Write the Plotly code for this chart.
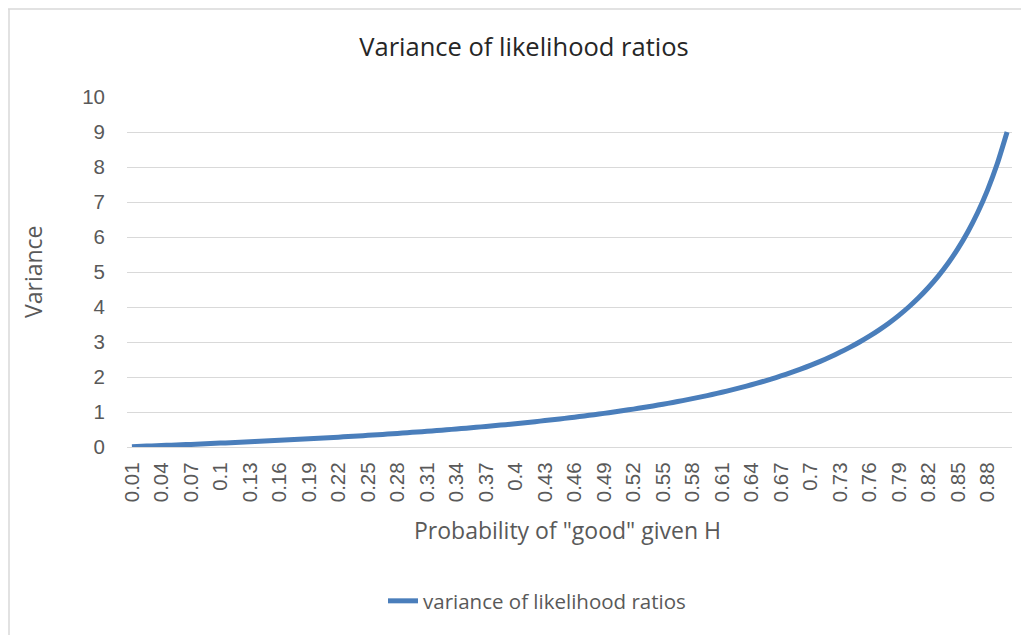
import plotly.graph_objects as go

categories = ["0.01", "0.02", "0.03", "0.04", "0.05", "0.06", "0.07", "0.08", "0.09", "0.1",
              "0.11", "0.12", "0.13", "0.14", "0.15", "0.16", "0.17", "0.18", "0.19", "0.2",
              "0.21", "0.22", "0.23", "0.24", "0.25", "0.26", "0.27", "0.28", "0.29", "0.3",
              "0.31", "0.32", "0.33", "0.34", "0.35", "0.36", "0.37", "0.38", "0.39", "0.4",
              "0.41", "0.42", "0.43", "0.44", "0.45", "0.46", "0.47", "0.48", "0.49", "0.5",
              "0.51", "0.52", "0.53", "0.54", "0.55", "0.56", "0.57", "0.58", "0.59", "0.6",
              "0.61", "0.62", "0.63", "0.64", "0.65", "0.66", "0.67", "0.68", "0.69", "0.7",
              "0.71", "0.72", "0.73", "0.74", "0.75", "0.76", "0.77", "0.78", "0.79", "0.8",
              "0.81", "0.82", "0.83", "0.84", "0.85", "0.86", "0.87", "0.88", "0.89", "0.9"]

variance = [0.010, 0.020, 0.031, 0.042, 0.053, 0.064, 0.075, 0.087, 0.099, 0.111,
            0.124, 0.136, 0.149, 0.163, 0.176, 0.190, 0.205, 0.220, 0.235, 0.250,
            0.266, 0.282, 0.299, 0.316, 0.333, 0.351, 0.370, 0.389, 0.408, 0.429,
            0.449, 0.471, 0.493, 0.515, 0.538, 0.563, 0.587, 0.613, 0.639, 0.667,
            0.695, 0.724, 0.754, 0.786, 0.818, 0.852, 0.887, 0.923, 0.961, 1.000,
            1.041, 1.083, 1.128, 1.174, 1.222, 1.273, 1.326, 1.381, 1.439, 1.500,
            1.564, 1.632, 1.703, 1.778, 1.857, 1.941, 2.030, 2.125, 2.226, 2.333,
            2.448, 2.571, 2.704, 2.846, 3.000, 3.167, 3.348, 3.545, 3.762, 4.000,
            4.263, 4.556, 4.882, 5.250, 5.667, 6.143, 6.692, 7.333, 8.091, 9.000]

tick_labels = categories[::3]

series_name = "variance of likelihood ratios"
title_text = "Variance of likelihood ratios"
x_title = 'Probability of "good" given H'
y_title = "Variance"

OFF = 8  # default page body margin
W, H = 1021, 627
L, R, T, B = 119, 17, 89, 188
pw, ph = W - L - R, H - T - B

def px(page_x):
    return (page_x - OFF - L) / pw

def py(page_y):
    return (H - B - (page_y - OFF)) / ph

fig = go.Figure()
fig.add_trace(go.Scatter(
    x=categories, y=variance, mode="lines", name=series_name,
    line=dict(color="#4a7ebb", width=5, shape="spline", smoothing=0.6),
))

grey = "#595959"
fig.update_layout(
    width=W, height=H,
    margin=dict(l=L, r=R, t=T, b=B),
    paper_bgcolor="white", plot_bgcolor="white",
    font=dict(family="Liberation Sans, Arial, sans-serif", color=grey, size=20),
    title=dict(text=title_text, x=(524 - OFF) / W, xref="container", xanchor="center",
               y=1 - (47 - OFF) / H, yref="container", yanchor="middle",
               font=dict(family="Open Sans, sans-serif", size=25.5, color="#262626")),
    showlegend=True,
    legend=dict(orientation="h", x=px(383), xanchor="left", y=py(601), yanchor="middle",
                font=dict(family="Open Sans, sans-serif", size=20.5, color=grey),
                bgcolor="rgba(0,0,0,0)"),
    xaxis=dict(type="category", tickmode="array", tickvals=tick_labels, ticktext=tick_labels,
               tickangle=-90, showgrid=False, showline=True, linecolor="#d9d9d9", linewidth=1.3,
               ticks="", tickfont=dict(size=20.5, color=grey), range=[-0.5, len(categories) - 0.5],
               zeroline=False, ticklabelstandoff=6),
    yaxis=dict(range=[0, 10], dtick=1, showgrid=True, gridcolor="#d9d9d9", gridwidth=1.3,
               zeroline=False, showline=False, ticks="", tickfont=dict(size=20.5, color=grey),
               ticklabelstandoff=21),
    annotations=[
        dict(text=x_title, x=px(567), y=py(530), xref="paper", yref="paper",
             showarrow=False, xanchor="center", yanchor="middle",
             font=dict(family="Open Sans, sans-serif", size=23, color=grey)),
        dict(text=y_title, x=px(33), y=py(272), xref="paper", yref="paper",
             showarrow=False, xanchor="center", yanchor="middle", textangle=-90,
             font=dict(family="Open Sans, sans-serif", size=23, color=grey)),
    ],
    shapes=[
        dict(type="line", xref="paper", yref="paper", x0=px(OFF), x1=px(1029), y0=py(OFF + 1), y1=py(OFF + 1),
             line=dict(color="#d9d9d9", width=1.5)),
        dict(type="line", xref="paper", yref="paper", x0=px(OFF + 1), x1=px(OFF + 1), y0=py(OFF + 1), y1=py(635),
             line=dict(color="#d9d9d9", width=1.5)),
    ],
)

fig.write_html("out.html")
